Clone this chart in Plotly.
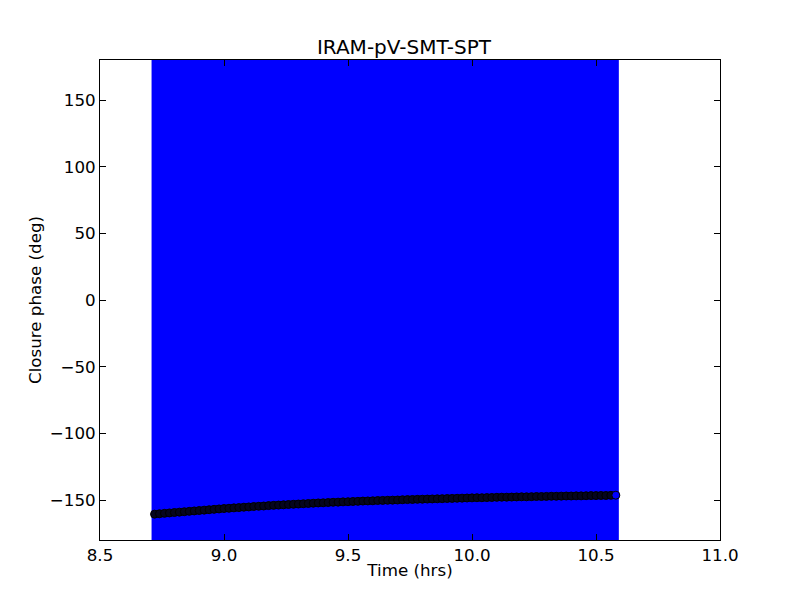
import plotly.graph_objects as go

title = "IRAM-pV-SMT-SPT"
x_label = "Time (hrs)"
y_label = "Closure phase (deg)"

time_hrs = [
    8.72, 8.74, 8.76, 8.78, 8.80, 8.82, 8.84, 8.86, 8.88, 8.90,
    8.92, 8.94, 8.96, 8.98, 9.00, 9.02, 9.04, 9.06, 9.08, 9.10,
    9.12, 9.14, 9.16, 9.18, 9.20, 9.22, 9.24, 9.26, 9.28, 9.30,
    9.32, 9.34, 9.36, 9.38, 9.40, 9.42, 9.44, 9.46, 9.48, 9.50,
    9.52, 9.54, 9.56, 9.58, 9.60, 9.62, 9.64, 9.66, 9.68, 9.70,
    9.72, 9.74, 9.76, 9.78, 9.80, 9.82, 9.84, 9.86, 9.88, 9.90,
    9.92, 9.94, 9.96, 9.98, 10.00, 10.02, 10.04, 10.06, 10.08, 10.10,
    10.12, 10.14, 10.16, 10.18, 10.20, 10.22, 10.24, 10.26, 10.28, 10.30,
    10.32, 10.34, 10.36, 10.38, 10.40, 10.42, 10.44, 10.46, 10.48, 10.50,
    10.52, 10.54, 10.56, 10.58,
]

closure_phase = [
    -160.6, -160.3, -160.0, -159.7, -159.4, -159.1, -158.8, -158.5, -158.2, -157.9,
    -157.6, -157.3, -157.0, -156.7, -156.4, -156.2, -155.9, -155.7, -155.4, -155.2,
    -154.9, -154.7, -154.5, -154.2, -154.0, -153.8, -153.6, -153.4, -153.2, -153.0,
    -152.8, -152.6, -152.4, -152.2, -152.1, -151.9, -151.7, -151.6, -151.4, -151.3,
    -151.1, -151.0, -150.8, -150.7, -150.6, -150.4, -150.3, -150.2, -150.1, -150.0,
    -149.8, -149.7, -149.6, -149.5, -149.4, -149.3, -149.2, -149.1, -149.0, -148.9,
    -148.8, -148.7, -148.6, -148.5, -148.4, -148.3, -148.3, -148.2, -148.1, -148.0,
    -147.9, -147.9, -147.8, -147.7, -147.6, -147.6, -147.5, -147.4, -147.4, -147.3,
    -147.2, -147.2, -147.1, -147.0, -147.0, -146.9, -146.9, -146.8, -146.7, -146.7,
    -146.6, -146.6, -146.5, -146.4,
]

# error bars are far larger than the plotted range (all clipped)
phase_error_deg = 400

x_ticks = [8.5, 9.0, 9.5, 10.0, 10.5, 11.0]
y_ticks = [-150, -100, -50, 0, 50, 100, 150]

FONT = "DejaVu Sans"

# Overlapping markers in the original blend into a near-black band;
# only the final point shows its blue fill.
marker_fill = ["#05051e"] * (len(time_hrs) - 1) + ["#0000ff"]

fig = go.Figure()
fig.add_trace(go.Scatter(
    x=time_hrs, y=closure_phase, mode="markers",
    marker=dict(size=8, color=marker_fill, line=dict(color="black", width=1)),
    error_y=dict(type="constant", value=phase_error_deg, color="#0000ff",
                 thickness=6, width=0),
    showlegend=False,
))

axis_common = dict(
    showgrid=False, zeroline=False, showline=True, linecolor="black",
    linewidth=1, mirror="ticks", ticks="inside", ticklen=6, tickwidth=1,
    tickcolor="black", tickfont=dict(family=FONT, size=16.7, color="black"),
    automargin=False,
)

# page body has an 8px margin, so the figure is offset by 8px
fig.update_layout(
    width=792, height=592,
    margin=dict(l=92, r=80, t=52, b=60),
    paper_bgcolor="white", plot_bgcolor="white",
    font=dict(family=FONT, color="black"),
    title=dict(text=title, x=0.5, xanchor="center", y=1 - 38.5 / 592,
               yanchor="middle", yref="container",
               font=dict(family=FONT, size=20, color="black")),
    xaxis=dict(range=[8.5, 11.0], tickvals=x_ticks, tickformat=".1f",
               title=dict(text=x_label, standoff=0,
                          font=dict(family=FONT, size=16.7)),
               **axis_common),
    yaxis=dict(range=[-180, 180], tickvals=y_ticks,
               title=dict(text=y_label, standoff=3,
                          font=dict(family=FONT, size=16.7)),
               **axis_common),
)

fig.write_html("out.html")
